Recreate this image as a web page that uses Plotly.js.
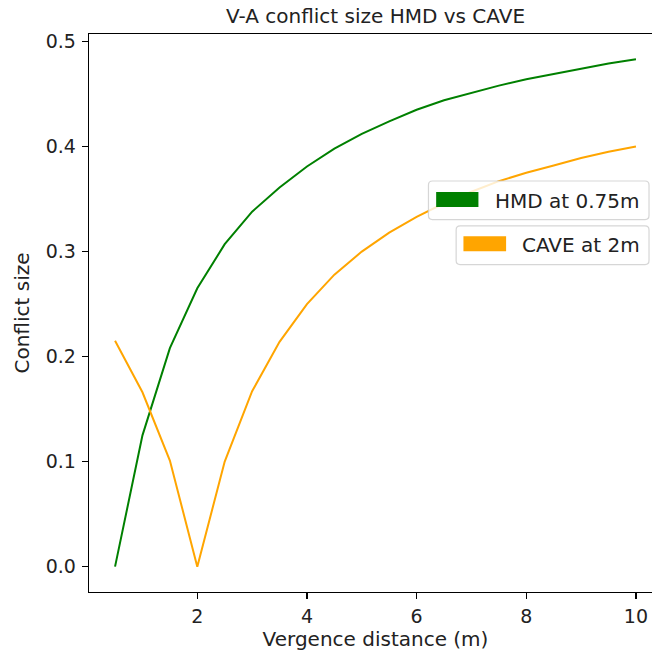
<!DOCTYPE html>
<html>
<head>
<meta charset="utf-8">
<script src="https://cdn.plot.ly/plotly-3.0.1.min.js"></script>
<style>
html, body { margin:0; padding:0; overflow:hidden; background:#fff; }
#chart { width:662px; height:655px; }
</style>
</head>
<body>
<div id="chart"></div>
<script>
// ---- data ----
const distances = [0.5, 1.0, 1.5, 2.0, 2.5, 3.0, 3.5, 4.0, 4.5, 5.0, 5.5, 6.0, 6.5, 7.0, 7.5, 8.0, 8.5, 9.0, 9.5, 10.0];
const hmdConflict = [0.0, 0.125, 0.208, 0.265, 0.307, 0.338, 0.361, 0.381, 0.398, 0.412, 0.424, 0.435, 0.444, 0.451, 0.458, 0.464, 0.469, 0.474, 0.479, 0.483];
const caveConflict = [0.215, 0.166, 0.101, 0.0, 0.1, 0.167, 0.214, 0.25, 0.278, 0.3, 0.318, 0.333, 0.346, 0.357, 0.367, 0.375, 0.382, 0.389, 0.395, 0.4];
const seriesNames = ["HMD at 0.75m", "CAVE at 2m"];
const seriesColors = ["green", "orange"];
const xTicks = [2, 4, 6, 8, 10];
const yTicks = [0.0, 0.1, 0.2, 0.3, 0.4, 0.5];

// ---- geometry ----
const W = 662, H = 655;
const mL = 88.6, mR = 0, mT = 33.6, mB = 63;
const plotW = W - mL - mR, plotH = H - mT - mB;
const fx = px => (px - mL) / plotW;
const fy = py => (H - mB - py) / plotH;

function roundRect(x0, y0, x1, y1, r) {
  const rx = r / plotW, ry = r / plotH;
  const L = fx(x0), R = fx(x1), T = fy(y0), B = fy(y1);
  return `M ${L+rx},${T} L ${R-rx},${T} Q ${R},${T} ${R},${T-ry} L ${R},${B+ry} Q ${R},${B} ${R-rx},${B} ` +
         `L ${L+rx},${B} Q ${L},${B} ${L},${B+ry} L ${L},${T-ry} Q ${L},${T} ${L+rx},${T} Z`;
}

const traces = [
  { x: distances, y: hmdConflict, name: seriesNames[0], type: 'scatter', mode: 'lines',
    line: { color: seriesColors[0], width: 2 }, showlegend: false },
  { x: distances, y: caveConflict, name: seriesNames[1], type: 'scatter', mode: 'lines',
    line: { color: seriesColors[1], width: 2 }, showlegend: false }
];

const legendBoxes = [
  { box: [428.3, 180.7, 649, 219.3], patch: [436, 191.7, 478.3, 206.7], textX: 493.3, textY: 200.5 },
  { box: [456, 225.7, 649, 264.3], patch: [463.3, 236, 506, 251], textX: 520, textY: 245 }
];

const shapes = [], annotations = [];
legendBoxes.forEach((lb, i) => {
  shapes.push({ type: 'path', xref: 'paper', yref: 'paper', path: roundRect(lb.box[0], lb.box[1], lb.box[2], lb.box[3], 4),
    fillcolor: 'rgba(255,255,255,0.8)', line: { color: 'rgba(204,204,204,0.8)', width: 1.2 }, layer: 'above' });
  shapes.push({ type: 'rect', xref: 'paper', yref: 'paper',
    x0: fx(lb.patch[0]), x1: fx(lb.patch[2]), y0: fy(lb.patch[1]), y1: fy(lb.patch[3]),
    fillcolor: seriesColors[i], line: { width: 0 }, layer: 'above' });
  annotations.push({ xref: 'paper', yref: 'paper', x: fx(lb.textX), y: fy(lb.textY), xanchor: 'left', yanchor: 'middle',
    text: seriesNames[i], showarrow: false, font: { family: 'DejaVu Sans', size: 20, color: '#222' } });
});

const layout = {
  width: W, height: H,
  margin: { l: mL, r: mR, t: mT, b: mB, pad: 0 },
  paper_bgcolor: '#fff', plot_bgcolor: '#fff',
  font: { family: 'DejaVu Sans', size: 19, color: '#222' },
  title: { text: 'V-A conflict size HMD vs CAVE', font: { family: 'DejaVu Sans', size: 20, color: '#222' },
           x: 0.5, xref: 'paper', xanchor: 'center', y: 1 - 16/H, yref: 'container', yanchor: 'middle' },
  xaxis: {
    range: [0.025, 10.475], tickvals: xTicks, ticktext: xTicks.map(String),
    showgrid: false, zeroline: false, showline: true, linecolor: '#000', linewidth: 1.3, mirror: true,
    ticks: 'outside', ticklen: 6, tickwidth: 1.3, tickcolor: '#000', ticklabelstandoff: 1,
    tickfont: { family: 'DejaVu Sans', size: 19, color: '#222' },
    title: { text: 'Vergence distance (m)', font: { family: 'DejaVu Sans', size: 20, color: '#222' }, standoff: 6 }
  },
  yaxis: {
    range: [-0.02415, 0.50715], tickvals: yTicks, ticktext: yTicks.map(v => v.toFixed(1)),
    showgrid: false, zeroline: false, showline: true, linecolor: '#000', linewidth: 1.3, mirror: true,
    ticks: 'outside', ticklen: 6, tickwidth: 1.3, tickcolor: '#000', ticklabelstandoff: 2,
    tickfont: { family: 'DejaVu Sans', size: 19, color: '#222' },
    title: { text: 'Conflict size', font: { family: 'DejaVu Sans', size: 20, color: '#222' }, standoff: 10 }
  },
  shapes: shapes,
  annotations: annotations,
  showlegend: false
};

Plotly.newPlot('chart', traces, layout, { displayModeBar: false, staticPlot: true });
</script>
</body>
</html>
